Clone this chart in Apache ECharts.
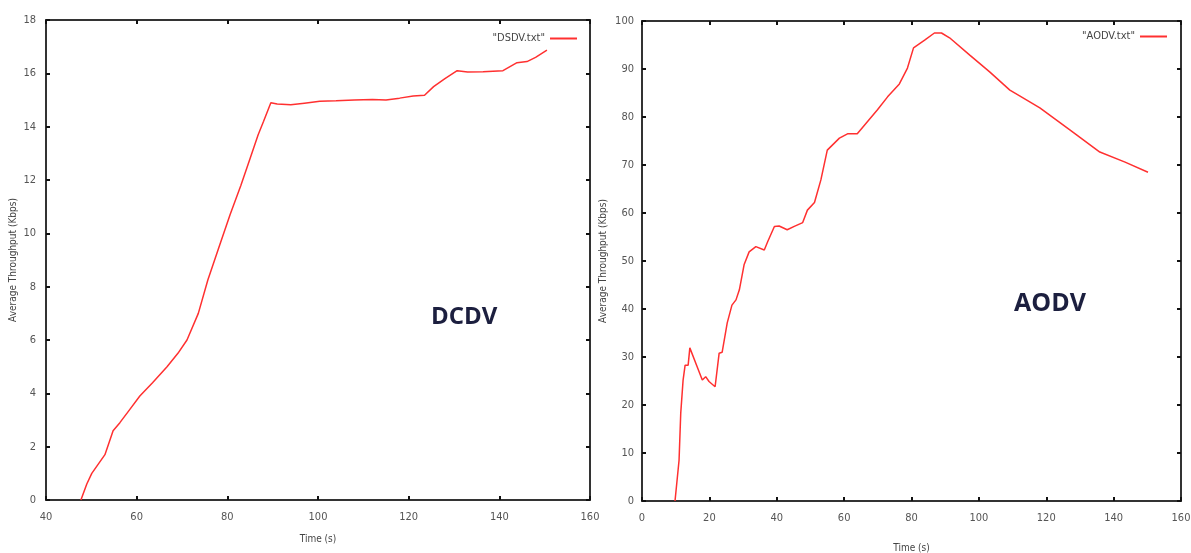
<!DOCTYPE html>
<html>
<head>
<meta charset="utf-8">
<script src="https://cdn.jsdelivr.net/npm/echarts@6/dist/echarts.min.js"></script>
<style>
  html, body { margin: 0; padding: 0; background: #fff; }
  #main { width: 1191px; height: 553px; }
</style>
</head>
<body>
<div id="main"></div>
<script>
// DSDV run (left panel)
var dsdvTime = [47.7, 49, 50.1, 53, 54.8, 56.3, 58.5, 60.7, 63.5, 66.7, 69.1, 71.1, 73.6, 75.7, 78, 80.6, 83, 85, 86.8, 88, 89.6,
                91, 94, 97, 100.4, 104, 108, 112, 115, 118, 121, 123.5, 125.5, 128, 130.7, 133, 136.4, 140.8, 143.9, 146.1, 148, 150.5];
var dsdvThroughput = [0, 0.6, 1.0, 1.7, 2.6, 2.9, 3.4, 3.9, 4.4, 5.0, 5.5, 6.0, 7.0, 8.25, 9.4, 10.7, 11.8, 12.8, 13.7, 14.2, 14.9,
                14.85, 14.82, 14.88, 14.95, 14.97, 15.0, 15.02, 15.0, 15.07, 15.15, 15.18, 15.5, 15.8, 16.1, 16.05, 16.06, 16.1, 16.4, 16.44, 16.6, 16.87];

// AODV run (right panel)
var aodvTime = [9.8, 11.0, 11.5, 12.2, 12.8, 13.7, 14.2, 16.4, 17.9, 18.9, 19.9, 21.7, 22.9, 23.8, 25.3, 26.7, 27.9, 28.9, 30.3, 31.8,
                33.8, 36.3, 37.3, 39.3, 40.7, 43.1, 45.2, 47.7, 49.1, 51.2, 53.1, 55, 58.6, 61, 63.9, 66.9, 69.9, 72.9, 76.4, 78.8,
                80.6, 83.9, 86.8, 88.9, 91.3, 97.3, 103.2, 109.2, 112.1, 118.1, 127, 135.9, 143.4, 150.2];
var aodvThroughput = [0, 8.5, 18.3, 25.2, 28.3, 28.3, 31.9, 27.9, 25.2, 25.9, 24.9, 23.8, 30.8, 31.0, 37.1, 40.8, 41.9, 44, 49.2, 51.9,
                53, 52.3, 54, 57.2, 57.3, 56.5, 57.2, 58, 60.6, 62.2, 66.9, 73.1, 75.6, 76.5, 76.5, 79, 81.5, 84.2, 86.9, 90.2,
                94.4, 96, 97.5, 97.5, 96.5, 92.9, 89.4, 85.6, 84.4, 81.9, 77.3, 72.7, 70.6, 68.5];

var timeTicksLeft = { min: 40, max: 160, interval: 20 };
var timeTicksRight = { min: 0, max: 160, interval: 20 };
var rateTicksLeft = { min: 0, max: 18, interval: 2 };
var rateTicksRight = { min: 0, max: 100, interval: 10 };

function pairs(xs, ys) {
    var out = [];
    for (var i = 0; i < xs.length; i++) out.push([xs[i], ys[i]]);
    return out;
}

var lineCol = '#333';
var fam = 'DejaVu Sans Condensed, DejaVu Sans';
var labelFont = { color: '#555', fontSize: 11, fontFamily: fam };

function xAxisFor(gi, ticks, pos, gap) {
    var main = pos === 'bottom';
    return {
        type: 'value', gridIndex: gi, position: pos,
        min: ticks.min, max: ticks.max, interval: ticks.interval,
        name: main ? 'Time (s)' : '', nameLocation: 'middle', nameGap: gap, nameMoveOverlap: false,
        nameTextStyle: { color: '#444', fontSize: 10, fontFamily: fam },
        axisLine: { show: true, onZero: false, lineStyle: { color: lineCol, width: 2 } },
        axisTick: { show: true, inside: true, length: 4, lineStyle: { color: '#111', width: 2 } },
        axisLabel: Object.assign({ show: main, margin: 12 }, labelFont),
        splitLine: { show: false }
    };
}

function yAxisFor(gi, ticks, pos, gap, margin) {
    var main = pos === 'left';
    return {
        type: 'value', gridIndex: gi, position: pos,
        min: ticks.min, max: ticks.max, interval: ticks.interval,
        name: main ? 'Average Throughput (Kbps)' : '', nameLocation: 'middle', nameGap: gap, nameMoveOverlap: false,
        nameTextStyle: { color: '#444', fontSize: 10, fontFamily: fam },
        axisLine: { show: true, onZero: false, lineStyle: { color: lineCol, width: 2 } },
        axisTick: { show: true, inside: true, length: 4, lineStyle: { color: '#111', width: 2 } },
        axisLabel: Object.assign({ show: main, margin: margin }, labelFont),
        splitLine: { show: false }
    };
}

var myChart = echarts.init(document.getElementById('main'));
var option = {
    backgroundColor: '#fff',
    animation: false,
    grid: [
        { left: 46, top: 20, width: 544, height: 480, outerBoundsMode: 'none', containLabel: false },
        { left: 642, top: 21, width: 539, height: 480, outerBoundsMode: 'none', containLabel: false }
    ],
    xAxis: [
        xAxisFor(0, timeTicksLeft, 'bottom', 34),
        xAxisFor(0, timeTicksLeft, 'top', 0),
        xAxisFor(1, timeTicksRight, 'bottom', 42),
        xAxisFor(1, timeTicksRight, 'top', 0)
    ],
    yAxis: [
        yAxisFor(0, rateTicksLeft, 'left', 28, 10),
        yAxisFor(0, rateTicksLeft, 'right', 0, 8),
        yAxisFor(1, rateTicksRight, 'left', 34, 8),
        yAxisFor(1, rateTicksRight, 'right', 0, 8)
    ],
    legend: [
        {
            data: ['"DSDV.txt"'], right: 1191 - 582, top: 28, align: 'right',
            icon: 'rect', itemWidth: 27, itemHeight: 2, itemGap: 4,
            textStyle: { color: '#444', fontSize: 11, fontFamily: fam }
        },
        {
            data: ['"AODV.txt"'], right: 1191 - 1172, top: 26, align: 'right',
            icon: 'rect', itemWidth: 27, itemHeight: 2, itemGap: 4,
            textStyle: { color: '#444', fontSize: 11, fontFamily: fam }
        }
    ],
    graphic: [
        { type: 'text', left: 431, top: 305, style: { text: 'DCDV', fill: '#1c1f3f', font: 'bold 24px "Open Sans", "Noto Sans", sans-serif' } },
        { type: 'text', left: 1014, top: 291, style: { text: 'AODV', fill: '#1c1f3f', font: 'bold 25px "Open Sans", "Noto Sans", sans-serif' } }
    ],
    series: [
        {
            name: '"DSDV.txt"', type: 'line', xAxisIndex: 0, yAxisIndex: 0,
            data: pairs(dsdvTime, dsdvThroughput),
            symbol: 'none', color: '#ff3030',
            lineStyle: { width: 1.5, color: '#ff3030' }
        },
        {
            name: '"AODV.txt"', type: 'line', xAxisIndex: 2, yAxisIndex: 2,
            data: pairs(aodvTime, aodvThroughput),
            symbol: 'none', color: '#ff3030',
            lineStyle: { width: 1.5, color: '#ff3030' }
        }
    ]
};
myChart.setOption(option);
</script>
</body>
</html>
